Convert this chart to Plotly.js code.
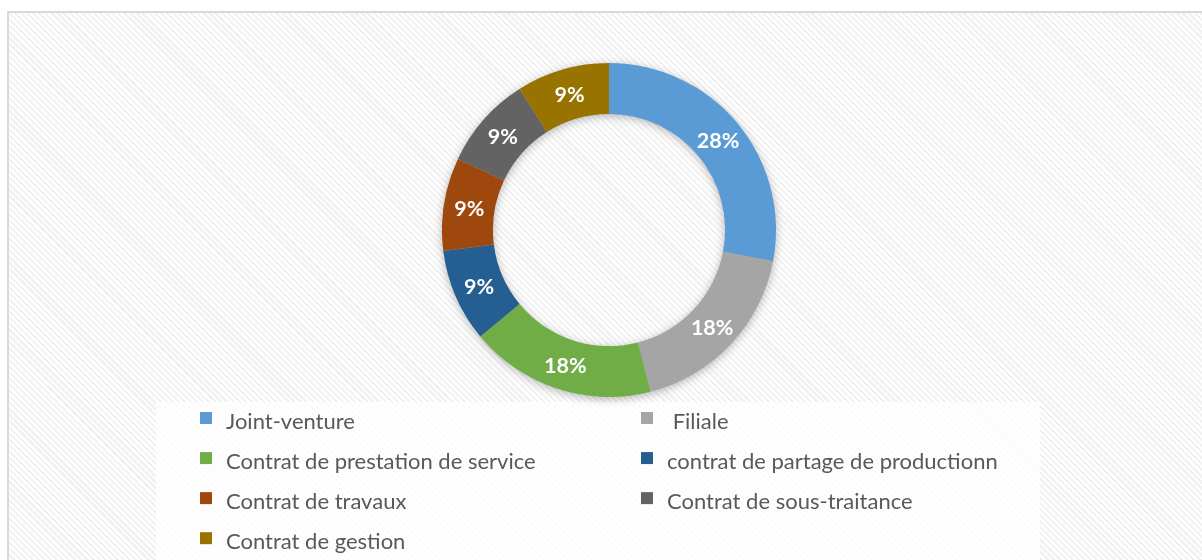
<!DOCTYPE html>
<html>
<head>
<meta charset="utf-8">
<script src="https://cdn.plot.ly/plotly-3.0.1.min.js"></script>
<style>
  html, body { margin:0; padding:0; width:1202px; height:560px; overflow:hidden; background:#fff; }
  #frame { position:absolute; left:7px; top:11px; width:1210px; height:560px;
    border-left:2px solid #d9d9d9; border-top:2px solid #d9d9d9; box-sizing:border-box;
    background: repeating-linear-gradient(45deg, #ffffff 0px, #ffffff 2px, #f2f2f2 2px, #f2f2f2 4.3px); }
  #chart { position:absolute; left:0; top:0; width:1202px; height:560px; }
  #chart .pielayer { filter: drop-shadow(0px 2px 4px rgba(0,0,0,0.28)); }
</style>
</head>
<body>
<div id="frame"></div>
<div id="chart"></div>
<script>
const labels = [
  "Joint-venture",
  " Filiale",
  "Contrat de prestation de service",
  "contrat de partage de productionn",
  "Contrat de travaux",
  "Contrat de sous-traitance",
  "Contrat de gestion"
];
const values = [28, 18, 18, 9, 9, 9, 9];
const colors = ["#5B9BD5", "#A5A5A5", "#70AD47", "#255E91", "#9E480E", "#636363", "#997300"];

const legendLabels = labels.map(l => '<span style="font-size:22px">' + l + '</span>');

const trace = {
  type: "pie",
  labels: legendLabels,
  values: values,
  sort: false,
  direction: "clockwise",
  rotation: 0,
  hole: 0.695,
  marker: { colors: colors, line: { width: 0 } },
  textinfo: "percent",
  texttemplate: "<b>%{percent:.0%}</b>",
  textposition: "inside",
  insidetextorientation: "horizontal",
  textfont: { family: "Lato, 'Open Sans', sans-serif", size: 21.5, color: "#ffffff" },
  hoverinfo: "none",
  domain: { x: [442/1202, 776/1202], y: [1 - 397/560, 1 - 63/560] }
};

const layout = {
  width: 1202,
  height: 560,
  margin: { l: 0, r: 0, t: 0, b: 0, autoexpand: false },
  paper_bgcolor: "rgba(0,0,0,0)",
  plot_bgcolor: "rgba(0,0,0,0)",
  showlegend: true,
  legend: {
    orientation: "h",
    xref: "paper", yref: "paper",
    x: 186/1202, xanchor: "left",
    y: 1 - 393/560, yanchor: "top",
    entrywidth: 396,
    entrywidthmode: "pixels",
    font: { family: "Lato, 'Open Sans', sans-serif", size: 28.5, color: "#595959" },
    bgcolor: "rgba(0,0,0,0)",
    traceorder: "normal"
  },
  shapes: [{
    type: "rect", xref: "paper", yref: "paper",
    x0: 156/1202, x1: 1040/1202, y0: 0, y1: 1 - 402/560,
    fillcolor: "rgba(255,255,255,0.75)", line: { width: 0 }, layer: "below"
  }]
};

Plotly.newPlot("chart", [trace], layout, { displayModeBar: false, staticPlot: true });
</script>
</body>
</html>
